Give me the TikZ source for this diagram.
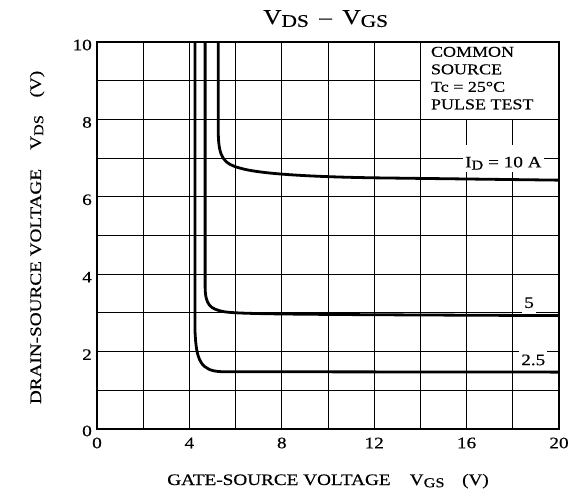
\documentclass[tikz,border=0pt]{standalone}
\usepackage{fontspec}
\setmainfont{Liberation Serif}[FakeStretch=1.2, FakeBold=0.4]

% lowered, slightly smaller subscript as set in the data sheet
\newcommand{\lowsub}[1]{\raisebox{-0.3ex}{\scalebox{0.85}{#1}}}

\begin{document}
\begin{tikzpicture}[
    x=23.1pt, y=38.7pt,
    % Thin grid lines of the chart
    gridStyle/.style={line width=0.9pt},
    % Outer frame of the chart
    frameStyle/.style={line width=1.6pt},
    % Measured curves, one per drain current
    curveStyle/.style={line width=2.8pt, line join=round},
    % Numbers along the axes
    tickStyle/.style={font=\fontsize{16}{18}\selectfont, inner sep=1pt},
    % Curve labels: white patch cut out of the grid
    labelStyle/.style={font=\fontsize{16}{18}\selectfont, fill=white,
        inner xsep=2pt, inner ysep=0pt, anchor=base west},
    % Test conditions in the corner box
    legendStyle/.style={font=\fontsize{15}{17.5}\selectfont, align=left,
        inner sep=0pt, anchor=north west},
    % Axis titles
    axisStyle/.style={font=\fontsize{16}{18}\selectfont, inner sep=0pt, anchor=base}
]
\useasboundingbox (-97pt,-68pt) rectangle (480pt,429pt);

%--- Grid ---
\draw[gridStyle] (0,0) grid[xstep=2, ystep=1] (20,10);

%--- Corner box with test conditions ---
\draw[gridStyle, fill=white] (14,8) rectangle (20,10);
\node[legendStyle] (legend) at (14.45,9.88)
  {COMMON\\SOURCE\\Tc = 25°C\\PULSE TEST};

%--- Curve labels ---
\node[labelStyle, text height=22pt, text depth=5pt] (idTen) at (15.84,6.76)
  {I\lowsub{D} = 10 A};
\node[labelStyle, text height=13pt, text depth=5.5pt] (idFive) at (18.40,3.13) {5};
\node[labelStyle, text height=16pt, text depth=4pt] (idTwoFive) at (18.27,1.65) {2.5};

%-----------------------
%        Curves
%-----------------------
% (1) I_D = 10 A
\draw[curveStyle] (5.25,10) -- (5.25,7.7)
  .. controls (5.25,7.0) and (5.5,6.85) .. (6.2,6.74)
  .. controls (7,6.6) and (9,6.52) .. (12,6.49) -- (20,6.43);

% (2) I_D = 5 A
\draw[curveStyle] (4.68,10) -- (4.68,3.7)
  .. controls (4.68,3.2) and (4.9,3.1) .. (5.5,3.03)
  .. controls (6.2,2.97) and (8,2.96) .. (20,2.93);

% (3) I_D = 2.5 A
\draw[curveStyle] (4.24,10) -- (4.24,2.6)
  .. controls (4.28,1.75) and (4.5,1.5) .. (5.4,1.48) -- (20,1.47);

%--- Frame ---
\draw[frameStyle] (0,0) rectangle (20,10);

%--- Y axis numbers ---
\node[tickStyle, anchor=east] (yZero)  at ([xshift=-4pt, yshift=-2pt]0,0)  {0};
\node[tickStyle, anchor=east] (yTwo)   at ([xshift=-4pt, yshift=-3pt]0,2)  {2};
\node[tickStyle, anchor=east] (yFour)  at ([xshift=-4pt, yshift=-3pt]0,4)  {4};
\node[tickStyle, anchor=east] (ySix)   at ([xshift=-4pt, yshift=-3pt]0,6)  {6};
\node[tickStyle, anchor=east] (yEight) at ([xshift=-4pt, yshift=-3pt]0,8)  {8};
\node[tickStyle, anchor=east] (yTen)   at ([xshift=-4pt, yshift=-3pt]0,10) {10};

%--- X axis numbers ---
\node[tickStyle] (xZero)   at ([yshift=-14pt]0,0)  {0};
\node[tickStyle] (xFour)   at ([yshift=-14pt]4,0)  {4};
\node[tickStyle] (xEight)  at ([yshift=-14pt]8,0)  {8};
\node[tickStyle] (xTwelve) at ([yshift=-14pt]12,0) {12};
\node[tickStyle] (xSixteen) at ([yshift=-14pt]16,0) {16};
\node[tickStyle] (xTwenty) at ([yshift=-14pt]20,0) {20};

%--- Titles ---
\node[axisStyle, font=\fontsize{21}{24}\selectfont] (title) at ([yshift=18pt]9.9,10)
  {V\lowsub{DS}\hspace{0.5em}--\hspace{0.5em}V\lowsub{GS}};
\node[axisStyle] (xTitle) at ([yshift=-56pt]10,0)
  {GATE-SOURCE VOLTAGE\hspace{1.2em}V\lowsub{GS}\hspace{1.1em}(V)};
\node[axisStyle, rotate=90] (yTitle) at ([xshift=-56pt]0,4.95)
  {DRAIN-SOURCE VOLTAGE\hspace{1.2em}V\lowsub{DS}\hspace{1.1em}(V)};
\end{tikzpicture}
\end{document}
